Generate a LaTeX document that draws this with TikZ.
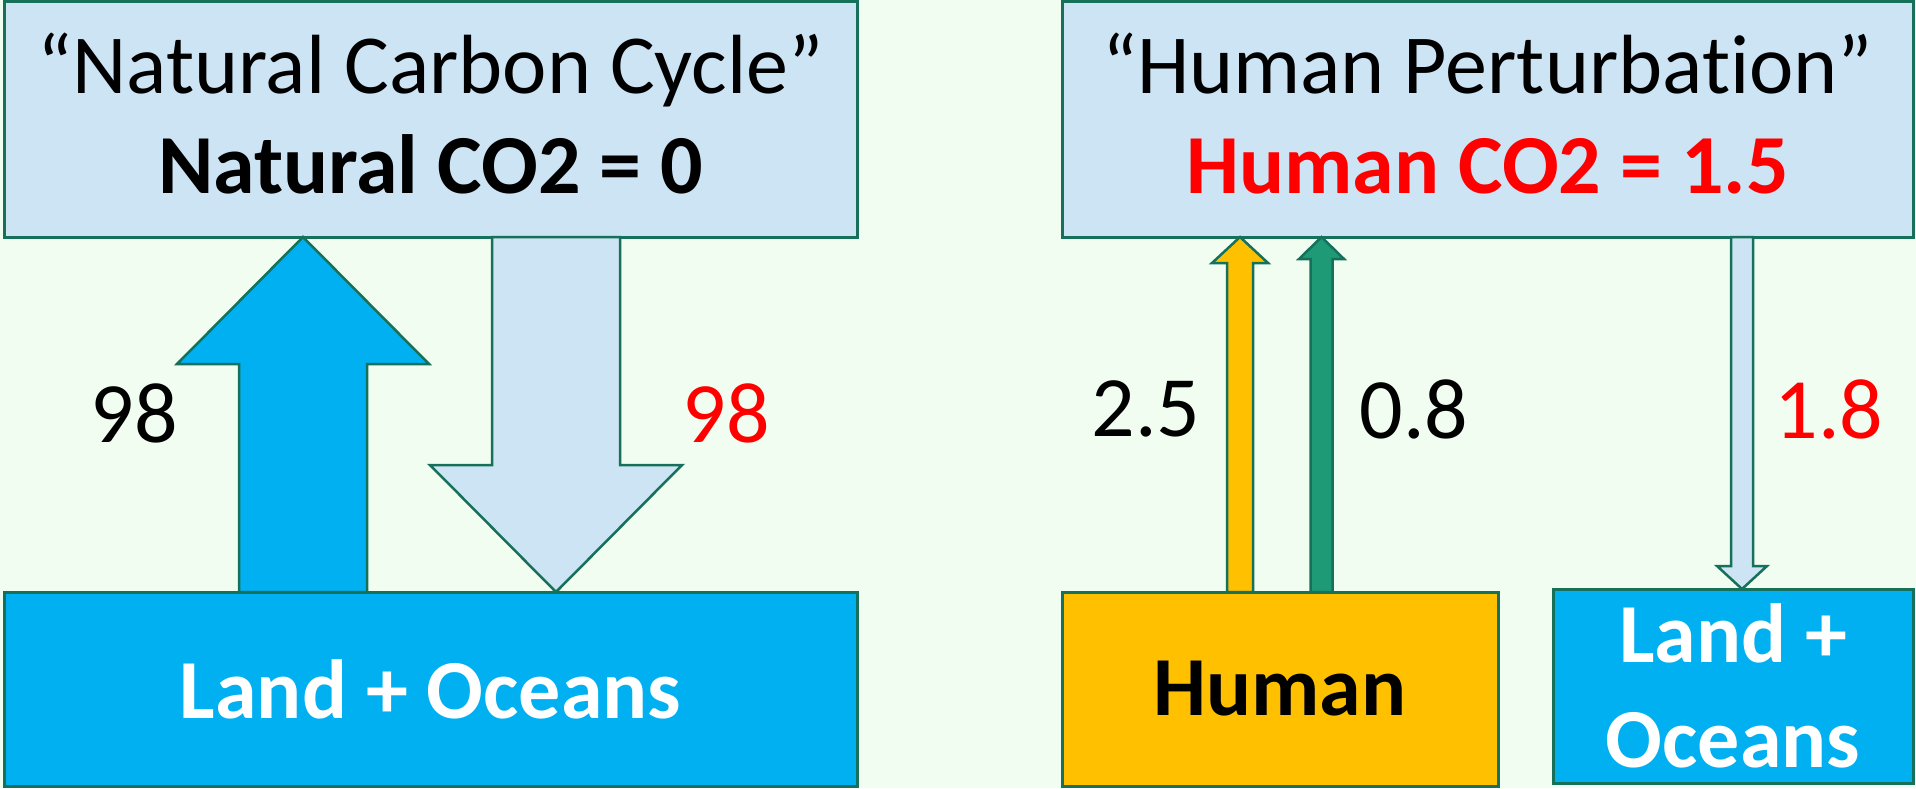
\documentclass[tikz,border=0pt]{standalone}
\usepackage{fontspec}
\setmainfont{Carlito}[Ligatures=CommonOff]
\usetikzlibrary{calc}

\definecolor{mintbg}{RGB}{240,253,240}
\definecolor{paleblue}{RGB}{205,228,245}
\definecolor{seablue}{RGB}{0,176,240}
\definecolor{sunyellow}{RGB}{255,192,0}
\definecolor{leafgreen}{RGB}{30,154,119}
\definecolor{edge}{RGB}{22,112,90}
\definecolor{hotred}{RGB}{255,0,0}

\tikzset{
  box/.style={draw=edge, line width=3pt, inner sep=0pt, outer sep=0pt, align=center,
    font=\fontsize{84}{100}\selectfont},
  fatarr/.style={draw=edge, line width=2.5pt, line join=miter},
  flow/.style={font=\fontsize{86}{100}\selectfont, inner sep=0pt},
}

% block arrow: fill, base, tip, shaft half width, head half width, head length
\newcommand\blockarr[6]{%
  \draw[fatarr,fill=#1] ($(#2)+(-#4,0)$) -- ($(#3)+(-#4,#6)$) -- ($(#3)+(-#5,#6)$)
    -- (#3) -- ($(#3)+(#5,#6)$) -- ($(#3)+(#4,#6)$) -- ($(#2)+(#4,0)$) -- cycle;}

\begin{document}
\begin{tikzpicture}[x=1pt,y=-1pt]
\fill[mintbg] (0,0) rectangle (1916,788);
\useasboundingbox (0,0) rectangle (1916,788);

% the two atmosphere boxes
\node[box,fill=paleblue,minimum width=853,minimum height=236] (nat) at (430.5,119)
  {“Natural Carbon Cycle”\\\textbf{Natural CO2 = 0}\rule[-12pt]{0pt}{12pt}};
\node[box,fill=paleblue,minimum width=851,minimum height=236] (pert) at (1487.5,119)
  {“Human Perturbation”\\\textbf{\color{hotred}Human CO2 = 1.5}\rule[-12pt]{0pt}{12pt}};

% sources and sinks
\node[box,fill=seablue,text=white,minimum width=853,minimum height=194] (sink1) at (430.5,689)
  {\textbf{Land + Oceans}};
\node[box,fill=sunyellow,minimum width=436,minimum height=194] (human) at (1280,689)
  {\textbf{Human}};
\node[box,fill=seablue,text=white,minimum width=360,minimum height=194,
  font=\fontsize{84}{105}\selectfont] (sink2) at (1733,686)
  {\textbf{Land +}\\\textbf{Oceans}};

% arrows
\coordinate (up1a) at (303,0 |- sink1.north);
\coordinate (up1b) at (303,0 |- nat.south);
\coordinate (dn1a) at (556,0 |- nat.south);
\coordinate (dn1b) at (556,0 |- sink1.north);
\coordinate (up2a) at (1240,0 |- human.north);
\coordinate (up2b) at (1240,0 |- pert.south);
\coordinate (up3a) at (1321.5,0 |- human.north);
\coordinate (up3b) at (1321.5,0 |- pert.south);
\coordinate (dn2a) at (1742,0 |- pert.south);
\coordinate (dn2b) at (1742,0 |- sink2.north);
\blockarr{seablue}{up1a}{up1b}{64}{126}{127}
\blockarr{paleblue}{dn1a}{dn1b}{64}{126}{-127}
\blockarr{sunyellow}{up2a}{up2b}{13}{28}{26}
\blockarr{leafgreen}{up3a}{up3b}{11}{22.5}{22}
\blockarr{paleblue}{dn2a}{dn2b}{11}{25}{-23}

% flow values
\node[flow] (v1) at (134,413) {98};
\node[flow,text=hotred] (v2) at (726,413) {98};
\node[flow] (v3) at (1146,409) {2.5};
\node[flow] (v4) at (1414,409) {0.8};
\node[flow,text=hotred] (v5) at (1829,409) {1.8};
\end{tikzpicture}
\end{document}
